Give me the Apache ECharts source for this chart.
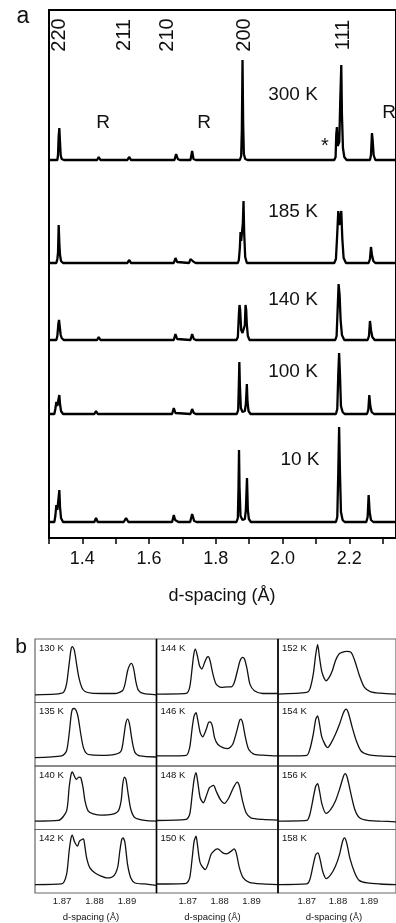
<!DOCTYPE html>
<html><head><meta charset="utf-8">
<script src="https://cdn.jsdelivr.net/npm/echarts@6/dist/echarts.min.js"></script>
<style>html,body{margin:0;padding:0;background:#fff;}#c{width:396px;height:923px;}</style>
</head><body><div id="c"></div>
<script>
// ---------- Panel a data: d-spacing (Å), intensity (arb.) ----------
const tempsA = ['300 K', '185 K', '140 K', '100 K', '10 K'];
const stackOffsetsA = [378, 275, 198, 124, 16];
const hklLabels = ['220', '211', '210', '200', '111'];
const hklPositions = [1.332, 1.525, 1.655, 1.887, 2.184];
const tickValuesA = [1.3, 1.4, 1.5, 1.6, 1.7, 1.8, 1.9, 2.0, 2.1, 2.2, 2.3];
const labelValuesA = [1.4, 1.6, 1.8, 2.0, 2.2];

const trace300 = [[1.30,0],[1.325,0],[1.327,5],[1.329,24],[1.331,32],[1.333,18],[1.335,5],[1.338,1],[1.345,0],
 [1.444,0],[1.449,3],[1.454,0],[1.535,0],[1.540,3],[1.546,0],[1.676,0],[1.681,6],[1.686,1],[1.692,0],
 [1.724,0],[1.729,9],[1.733,1],[1.74,0],
 [1.872,0],[1.876,4],[1.878,30],[1.880,100],[1.882,35],[1.884,6],[1.888,1],[1.895,0],
 [2.155,0],[2.159,3],[2.161,26],[2.163,33],[2.165,14],[2.170,18],[2.173,60],[2.176,95],[2.178,45],[2.181,12],[2.185,3],[2.192,0],
 [2.262,0],[2.265,5],[2.268,27],[2.270,20],[2.273,5],[2.278,0],[2.34,0]];
const trace185 = [[1.30,0],[1.322,0],[1.325,4],[1.327,10],[1.329,38],[1.331,20],[1.333,8],[1.336,2],[1.342,0],
 [1.444,0],[1.449,2],[1.454,0],[1.535,0],[1.540,3],[1.546,0],[1.674,0],[1.679,5],[1.684,1],[1.72,0],[1.724,4],[1.729,5],[1.734,1],[1.74,0],
 [1.866,0],[1.869,3],[1.872,15],[1.874,31],[1.876,22],[1.879,20],[1.881,40],[1.883,62],[1.885,30],[1.888,6],[1.893,0],
 [2.155,0],[2.160,4],[2.164,30],[2.167,52],[2.170,38],[2.173,40],[2.176,52],[2.179,25],[2.183,5],[2.19,0],
 [2.258,0],[2.262,4],[2.265,16],[2.268,8],[2.272,2],[2.278,0],[2.34,0]];
const trace140 = [[1.30,0],[1.322,0],[1.325,4],[1.328,16],[1.330,20],[1.332,14],[1.335,5],[1.338,2],[1.344,0],
 [1.444,0],[1.449,3],[1.454,0],[1.535,0],[1.540,2],[1.546,0],[1.674,0],[1.679,6],[1.684,1],[1.724,0],[1.729,6],[1.734,1],[1.74,0],
 [1.862,0],[1.866,3],[1.869,25],[1.871,35],[1.873,30],[1.876,10],[1.880,7],[1.884,8],[1.887,15],[1.889,35],[1.891,30],[1.893,15],[1.896,4],[1.901,0],
 [2.158,0],[2.162,4],[2.165,30],[2.168,56],[2.171,45],[2.174,20],[2.178,5],[2.185,0],
 [2.255,0],[2.259,4],[2.262,19],[2.265,10],[2.269,3],[2.276,0],[2.34,0]];
const trace100 = [[1.30,0],[1.316,0],[1.319,5],[1.322,12],[1.325,8],[1.328,14],[1.331,19],[1.333,10],[1.336,3],[1.342,0],
 [1.436,0],[1.441,3],[1.446,0],[1.526,0],[1.531,2],[1.537,0],[1.669,0],[1.674,6],[1.679,1],[1.724,0],[1.729,5],[1.734,1],[1.74,0],
 [1.863,0],[1.867,4],[1.869,30],[1.8705,52],[1.872,30],[1.875,6],[1.880,2],[1.887,3],[1.890,10],[1.893,30],[1.895,12],[1.898,3],[1.904,0],
 [2.160,0],[2.164,5],[2.167,40],[2.1695,61],[2.172,40],[2.175,8],[2.180,2],[2.186,0],
 [2.253,0],[2.257,4],[2.260,19],[2.263,8],[2.267,2],[2.274,0],[2.34,0]];
const trace10 = [[1.30,0],[1.316,0],[1.319,6],[1.322,17],[1.325,12],[1.328,22],[1.331,32],[1.333,15],[1.336,4],[1.342,0],
 [1.436,0],[1.441,4],[1.446,0],[1.524,0],[1.531,4],[1.538,0],[1.669,0],[1.674,7],[1.678,2],[1.683,3],[1.688,0],[1.723,0],[1.729,8],[1.735,1],[1.742,0],
 [1.862,0],[1.866,4],[1.868,35],[1.8695,72],[1.871,35],[1.874,6],[1.880,2],[1.887,3],[1.890,12],[1.8934,44],[1.896,12],[1.899,3],[1.905,0],
 [2.160,0],[2.164,5],[2.167,50],[2.1695,95],[2.172,50],[2.175,10],[2.180,2],[2.186,0],
 [2.251,0],[2.255,5],[2.258,27],[2.261,10],[2.265,2],[2.272,0],[2.34,0]];
const tracesA = [trace300, trace185, trace140, trace100, trace10];

// ---------- Panel b data ----------
const tempsB = ['130 K','135 K','140 K','142 K','144 K','146 K','148 K','150 K','152 K','154 K','156 K','158 K'];
const labelValuesB = [1.87, 1.88, 1.89];
const b130 = [[1.8617,23],[1.8678,25],[1.8704,30],[1.8714,55],[1.8722,115],[1.8728,160],[1.8732,167],[1.8738,157],[1.8745,115],[1.8752,75],[1.8761,45],[1.8771,33],[1.8791,28],[1.8822,27],[1.8863,27],[1.8886,35],[1.8894,55],[1.8902,95],[1.8909,113],[1.8914,117],[1.8921,100],[1.8927,65],[1.8935,37],[1.8950,27],[1.8991,23]];
const b135 = [[1.8617,25],[1.8699,30],[1.8714,45],[1.8722,95],[1.8728,150],[1.8732,170],[1.8738,172],[1.8744,165],[1.8750,145],[1.8758,95],[1.8766,55],[1.8776,37],[1.8791,33],[1.8822,32],[1.8863,35],[1.8882,45],[1.8890,85],[1.8896,125],[1.8902,140],[1.8908,125],[1.8916,75],[1.8925,40],[1.8940,30],[1.8991,27]];
const b140 = [[1.8617,25],[1.8689,27],[1.8714,55],[1.8722,125],[1.8728,165],[1.8732,172],[1.8738,160],[1.8744,150],[1.8752,157],[1.8758,155],[1.8765,125],[1.8771,85],[1.8781,55],[1.8796,47],[1.8822,43],[1.8853,45],[1.8873,55],[1.8882,85],[1.8887,135],[1.8892,157],[1.8897,150],[1.8904,105],[1.8912,60],[1.8925,35],[1.8955,27],[1.8991,25]];
const b142 = [[1.8617,25],[1.8699,27],[1.8714,55],[1.8722,125],[1.8728,165],[1.8732,173],[1.8738,155],[1.8748,140],[1.8754,155],[1.8766,162],[1.8769,150],[1.8776,105],[1.8786,75],[1.8802,60],[1.8822,50],[1.8837,45],[1.8858,50],[1.8871,75],[1.8878,125],[1.8884,160],[1.8888,165],[1.8894,150],[1.8902,85],[1.8912,45],[1.8925,30],[1.8955,27],[1.8991,23]];
const b144 = [[1.8602,25],[1.8695,27],[1.8706,45],[1.8714,105],[1.8719,145],[1.8724,160],[1.8730,140],[1.8737,110],[1.8744,100],[1.8753,120],[1.8760,135],[1.8764,137],[1.8770,125],[1.8779,85],[1.8789,55],[1.8805,45],[1.8826,47],[1.8836,47],[1.8846,60],[1.8857,100],[1.8864,125],[1.8872,135],[1.8878,130],[1.8886,100],[1.8895,55],[1.8909,35],[1.8935,27],[1.8982,27]];
const b146 = [[1.8602,30],[1.8695,32],[1.8706,55],[1.8714,115],[1.8720,150],[1.8726,160],[1.8731,140],[1.8739,100],[1.8747,87],[1.8758,110],[1.8765,130],[1.8770,132],[1.8777,120],[1.8784,85],[1.8794,65],[1.8810,55],[1.8826,52],[1.8841,65],[1.8854,105],[1.8862,135],[1.8866,140],[1.8872,130],[1.8881,85],[1.8891,50],[1.8909,35],[1.8945,32],[1.8982,30]];
const b148 = [[1.8602,27],[1.8695,30],[1.8706,45],[1.8714,105],[1.8720,150],[1.8726,170],[1.8731,145],[1.8739,95],[1.8749,80],[1.8758,100],[1.8768,125],[1.8781,132],[1.8789,115],[1.8802,90],[1.8815,78],[1.8829,95],[1.8843,125],[1.8855,142],[1.8862,130],[1.8872,85],[1.8883,50],[1.8898,35],[1.8935,30],[1.8982,28]];
const b150 = [[1.8602,27],[1.8695,29],[1.8706,45],[1.8714,105],[1.8720,155],[1.8726,170],[1.8731,140],[1.8739,90],[1.8755,70],[1.8763,85],[1.8773,115],[1.8787,130],[1.8794,132],[1.8810,120],[1.8822,117],[1.8836,125],[1.8845,132],[1.8852,120],[1.8862,75],[1.8874,45],[1.8893,32],[1.8935,27],[1.8982,25]];
const b152 = [[1.8608,25],[1.8700,30],[1.8710,40],[1.8721,85],[1.8729,145],[1.8735,173],[1.8741,135],[1.8749,90],[1.8762,65],[1.8772,75],[1.8782,95],[1.8792,125],[1.8803,145],[1.8813,150],[1.8828,153],[1.8842,150],[1.8854,125],[1.8869,80],[1.8885,45],[1.8905,32],[1.8936,28],[1.8986,25]];
const b154 = [[1.8608,30],[1.8700,32],[1.8710,50],[1.8721,95],[1.8729,140],[1.8735,150],[1.8741,125],[1.8749,85],[1.8767,55],[1.8777,67],[1.8792,95],[1.8805,125],[1.8818,160],[1.8826,170],[1.8833,160],[1.8846,115],[1.8859,75],[1.8874,45],[1.8900,33],[1.8936,30],[1.8986,28]];
const b156 = [[1.8608,25],[1.8700,27],[1.8710,45],[1.8721,95],[1.8729,130],[1.8735,137],[1.8741,115],[1.8749,75],[1.8762,48],[1.8777,60],[1.8792,85],[1.8805,120],[1.8818,160],[1.8823,167],[1.8830,155],[1.8842,105],[1.8854,60],[1.8869,35],[1.8895,27],[1.8936,25],[1.8986,23]];
const b158 = [[1.8608,25],[1.8700,27],[1.8710,40],[1.8721,85],[1.8729,115],[1.8736,120],[1.8743,100],[1.8751,65],[1.8762,43],[1.8777,55],[1.8792,80],[1.8805,115],[1.8815,155],[1.8821,165],[1.8828,150],[1.8838,105],[1.8854,60],[1.8869,37],[1.8895,30],[1.8936,27],[1.8986,25]];
const tracesB = [b130,b135,b140,b142,b144,b146,b148,b150,b152,b154,b156,b158];
const colRangeB = [[1.8617,1.8991],[1.8602,1.8983],[1.8608,1.8986]];

// ---------- Layout ----------
const FONT = '"Liberation Sans", Arial, Helvetica, sans-serif';
const aGrid = {left:49, top:10, width:364, height:528};
const colLeft = [35, 156.5, 278], colWidth = [121.5, 121.5, 122];
const rowTop = [639, 702.5, 766, 829.5], rowH = 63.5;

const grids = [{left:aGrid.left, top:aGrid.top, width:aGrid.width, height:aGrid.height,
  show:true, borderColor:'#000', borderWidth:2, backgroundColor:'transparent'}];
const xAxes = [{type:'value', gridIndex:0, min:1.3, max:2.34,
  axisLine:{show:true, lineStyle:{color:'#000', width:2}},
  axisTick:{show:true, inside:false, length:6, lineStyle:{color:'#000', width:1.5}, customValues:tickValuesA},
  axisLabel:{show:true, customValues:labelValuesA, margin:12, fontSize:18, fontFamily:FONT, color:'#111',
    formatter:v=>v.toFixed(1)},
  splitLine:{show:false}}];
const yAxes = [{type:'value', gridIndex:0, min:0, max:528, show:false}];
const series = [];
tracesA.forEach((t, i) => {
  series.push({type:'line', xAxisIndex:0, yAxisIndex:0, showSymbol:false, symbol:'none',
    lineStyle:{color:'#000', width:2.3}, data:t.map(p => [p[0], p[1] + stackOffsetsA[i]]), z:3});
});

for (let c = 0; c < 3; c++) {
  for (let r = 0; r < 4; r++) {
    const k = c*4 + r;
    const gi = grids.length;
    grids.push({left:colLeft[c], top:rowTop[r], width:colWidth[c], height:rowH,
      show:true, borderColor:'#666', borderWidth:1.2});
    xAxes.push({type:'value', gridIndex:gi, min:colRangeB[c][0], max:colRangeB[c][1],
      axisLine:{show:false}, axisTick:{show:false}, splitLine:{show:false},
      axisLabel:{show: r===3, customValues:labelValuesB, margin:3, fontSize:9.5, fontFamily:FONT, color:'#222',
        formatter:v=>v.toFixed(2)}});
    yAxes.push({type:'value', gridIndex:gi, min:0, max:190, show:false});
    series.push({type:'line', xAxisIndex:gi, yAxisIndex:gi, showSymbol:false, symbol:'none', smooth:0.25,
      lineStyle:{color:'#111', width:1.3}, data:tracesB[k]});
  }
}

const graphic = [];
const txt = (x, y, text, size, opts={}) => graphic.push(Object.assign({type:'text', x, y, z:10,
  style:{text, font:`${size}px ${FONT}`, fill:'#111', align:opts.align||'center', verticalAlign:opts.va||'middle'}}, opts.extra||{}));

txt(23, 17, 'a', 23);
txt(21, 647, 'b', 21);
const chart = echarts.init(document.getElementById('c'), null, {renderer:'canvas'});
chart.setOption({animation:false, grid:grids, xAxis:xAxes, yAxis:yAxes, series});

// hkl labels, rotated, placed at their d-spacing
hklLabels.forEach((h, i) => {
  const px = chart.convertToPixel({gridIndex:0}, [hklPositions[i], 0])[0];
  graphic.push({type:'text', x:px, y:35, rotation:Math.PI/2, z:10,
    style:{text:h, font:`20px ${FONT}`, fill:'#111', align:'center', verticalAlign:'middle'}});
});
const tempLabelYA = [95, 212, 300, 372, 460];
tempsA.forEach((t, i) => txt(t === '10 K' ? 300 : 293, tempLabelYA[i], t, 19));
txt(103, 123, 'R', 19); txt(204, 123, 'R', 19); txt(389, 113, 'R', 19);
txt(325, 146, '*', 20);
txt(222, 596, 'd-spacing (\u00c5)', 18);
for (let c = 0; c < 3; c++) {
  for (let r = 0; r < 4; r++) {
    txt(colLeft[c] + 4, rowTop[r] + 9, tempsB[c*4 + r], 9.5, {align:'left'});
  }
  txt(colLeft[c] + 56, 917, 'd-spacing (\u00c5)', 9.5);
}
[156.5, 278].forEach(x => graphic.push({type:'line', z:11, shape:{x1:x, y1:639, x2:x, y2:893},
  style:{stroke:'#000', lineWidth:1.5}}));

chart.setOption({graphic});
</script></body></html>
